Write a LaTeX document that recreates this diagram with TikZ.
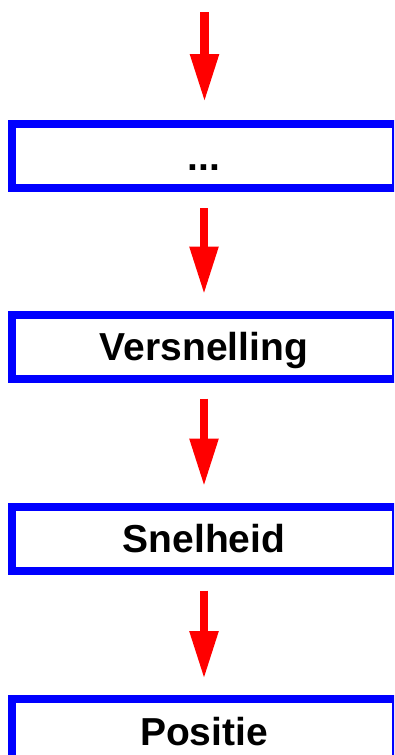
\documentclass[tikz,border=0pt]{standalone}
\usepackage{fontspec}
\setmainfont{Liberation Sans}
\usetikzlibrary{arrows.meta}
\tikzset{
  box/.style={draw=blue, line width=8pt, fill=white, minimum width=384pt, minimum height=64pt,
    inner sep=0pt, text height=28pt, text depth=0pt,
    font=\fontsize{39}{39}\selectfont\bfseries},
  redarrow/.style={draw=red, line width=8.5pt,
    -{Triangle[length=48pt,width=27pt]}, shorten <=16pt, shorten >=16pt}
}
\begin{document}
\begin{tikzpicture}[x=1pt,y=1pt]
\useasboundingbox (0,0) rectangle (394,-755);
\clip (0,0) rectangle (394,-755);
\fill[white] (0,0) rectangle (394,-755);
\coordinate (top) at (204.5,-12);
\node[box] (b1) at (204,-156) {...};
\node[box] (b2) at (204,-346.5) {Versnelling};
\node[box] (b3) at (204,-538.5) {Snelheid};
\node[box] (b4) at (204,-731) {Positie};
\draw[redarrow, shorten <=0pt, shorten >=18pt] (top) -- (top |- b1.north);
\draw[redarrow] (b1.south) -- (b2.north);
\draw[redarrow] (b2.south) -- (b3.north);
\draw[redarrow] (b3.south) -- (b4.north);
\end{tikzpicture}
\end{document}
